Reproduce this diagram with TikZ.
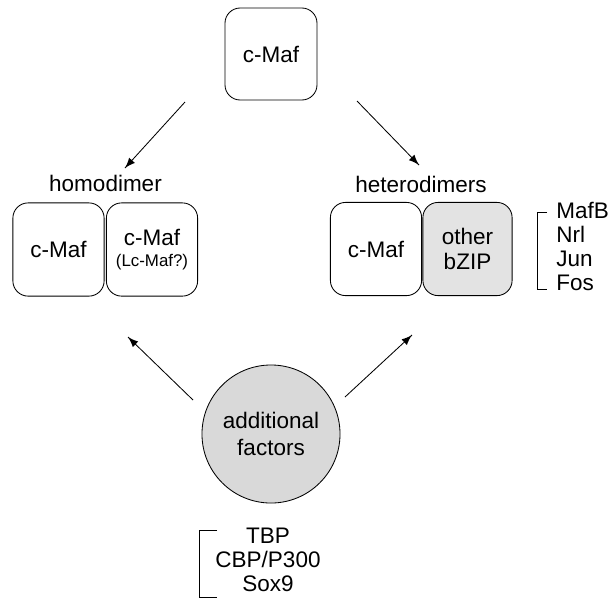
\documentclass[tikz,border=0pt]{standalone}
\usepackage{fontspec}
\setmainfont{Liberation Sans}
\usetikzlibrary{calc}
\usetikzlibrary{arrows,decorations.markings}

\begin{document}
\begin{tikzpicture}
% one unit = one pixel of the figure
[
    x=0.025cm,y=-0.025cm,
    decoration={
      markings,
      mark=at position 1 with {\arrow[scale=1.6,black]{latex}};
    },
    box/.style={draw,line width=0.6pt,rounded corners=0.38cm,inner sep=0pt,
      align=center,minimum width=2.28cm,minimum height=2.33cm,
      font=\fontsize{16}{18}\selectfont},
    lbl/.style={font=\fontsize{16}{18}\selectfont},
    list/.style={align=left,inner sep=0pt,font=\fontsize{16}{17.1}\selectfont},
    arr/.style={line width=0.6pt,postaction={decorate}}
]
\useasboundingbox (0,0) rectangle (612,601);

% monomer
\node[box,minimum width=2.3cm,minimum height=2.3cm] (cmaf) at (271,54) {c-Maf};

% homodimer
\node[lbl] (homo) at (105.5,183) {homodimer};
\node[box] (homoA) at (58.5,249.5) {c-Maf};
\node[box] (homoB) at (152,249.5) {c-Maf\\[-3pt]{\fontsize{12}{13}\selectfont (Lc-Maf?)}};

% heterodimers
\node[lbl] (hetero) at (421,184) {heterodimers};
\node[box] (heteroA) at (376,249) {c-Maf};
\node[box,fill=gray!22,minimum width=2.23cm] (heteroB) at (467.5,249) {other\\bZIP};

% partners of c-Maf
\node[list,anchor=north west] (partners) at (556,202) {MafB\\Nrl\\Jun\\Fos};
\draw[line width=0.6pt] (547,212) -- (537,212) -- (537,289) -- (547,289);

% additional factors
\node[draw,circle,line width=0.6pt,fill=gray!30,minimum size=3.45cm,align=center,
  font=\fontsize{16}{19}\selectfont] (factors) at (271,434) {additional\\factors};
\node[list,align=center,anchor=north] (cofactors) at (268,528) {TBP\\CBP/P300\\Sox9};
\draw[line width=0.6pt] (217,530) -- (199,530) -- (199,597) -- (217,597);

% arrows
\coordinate (t1) at (185,102);
\coordinate (h1) at (125,168);
\coordinate (t2) at (357,101);
\coordinate (h2) at (419,165);
\coordinate (t3) at (193,400);
\coordinate (h3) at (128,337);
\coordinate (t4) at (345,397);
\coordinate (h4) at (412,335);
\draw[arr] (t1) -- (h1);
\draw[arr] (t2) -- (h2);
\draw[arr] (t3) -- (h3);
\draw[arr] (t4) -- (h4);

\end{tikzpicture}
\end{document}
